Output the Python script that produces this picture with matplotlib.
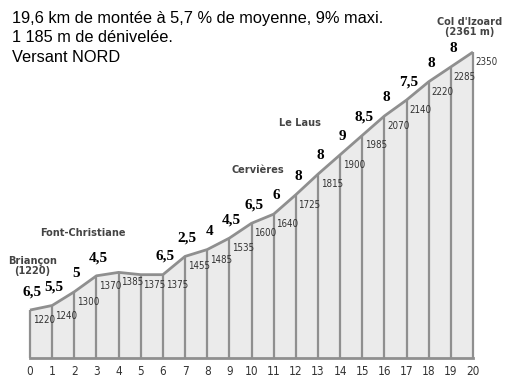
import matplotlib.pyplot as plt
import numpy as np

# altitude (m) at each km, col d'Izoard north side
km = np.arange(0, 21)
altitude = [1220, 1240, 1300, 1370, 1385, 1375, 1375, 1455, 1485, 1535, 1600,
            1640, 1725, 1815, 1900, 1985, 2070, 2140, 2220, 2285, 2350]

# gradient (%) of each km segment, None = no label
gradient = ["6,5", "5,5", "5", "4,5", None, None, "6,5", "2,5", "4", "4,5",
            "6,5", "6", "8", "8", "9", "8,5", "8", "7,5", "8", "8"]

places = ["Briançon\n(1220)", "Font-Christiane", "Cervières", "Le Laus",
          "Col d'Izoard\n(2361 m)"]
place_km = [0.1, 2.4, 10.3, 12.2, 19.85]
place_alt = [1413, 1557, 1833, 2039, 2460]

header = ["19,6 km de montée à 5,7 % de moyenne, 9% maxi.",
          "1 185 m de dénivelée.",
          "Versant NORD"]

base = 1010
grey = '#8f8f8f'

fig = plt.figure(figsize=(5.13, 3.85), dpi=100)
ax = fig.add_axes([30 / 513, 27 / 385, 443 / 513, 358 / 385])
ax.set_xlim(0, 20)
ax.set_ylim(base, base + 358 * 4.38)
for s in ax.spines.values():
    s.set_visible(False)
ax.set_yticks([])
ax.set_xticks(km)
ax.tick_params(axis='x', length=0, pad=5, labelsize=8.5, labelcolor='#333333')
for lab in ax.get_xticklabels():
    lab.set_fontstretch('condensed')

# profile
ax.fill_between(km, altitude, base, color='#ebebeb', lw=0, clip_on=False)
ax.vlines(km, base, altitude, color=grey, lw=1.6, clip_on=False)
ax.plot(km, altitude, color=grey, lw=2, clip_on=False, solid_capstyle='butt')
ax.plot([0, 20], [base, base], color=grey, lw=2, clip_on=False)

# altitude labels
for k, a in zip(km, altitude):
    ax.text(k + 0.12, a - 22, str(a), ha='left', va='top', fontsize=7,
            fontstretch='condensed', color='#333333', clip_on=False)

# gradient labels
for k, g in enumerate(gradient):
    if g is None:
        continue
    ax.text(k + 0.1, altitude[k] + 80, g, ha='center', va='center',
            fontsize=11, family='Liberation Serif', fontweight='bold',
            color='black', clip_on=False)

# place names
for name, pk, pa in zip(places, place_km, place_alt):
    ax.text(pk, pa, name, ha='center', va='center', fontsize=7.8,
            fontstretch='condensed', fontweight='bold', color='#444444',
            linespacing=0.95, clip_on=False)

# header text
for i, line in enumerate(header):
    fig.text(12 / 513, 1 - (18 + 20 * i) / 385, line, ha='left', va='center',
             fontsize=11.8, family='Liberation Sans', color='black')

fig.savefig('out.png', dpi=100)
